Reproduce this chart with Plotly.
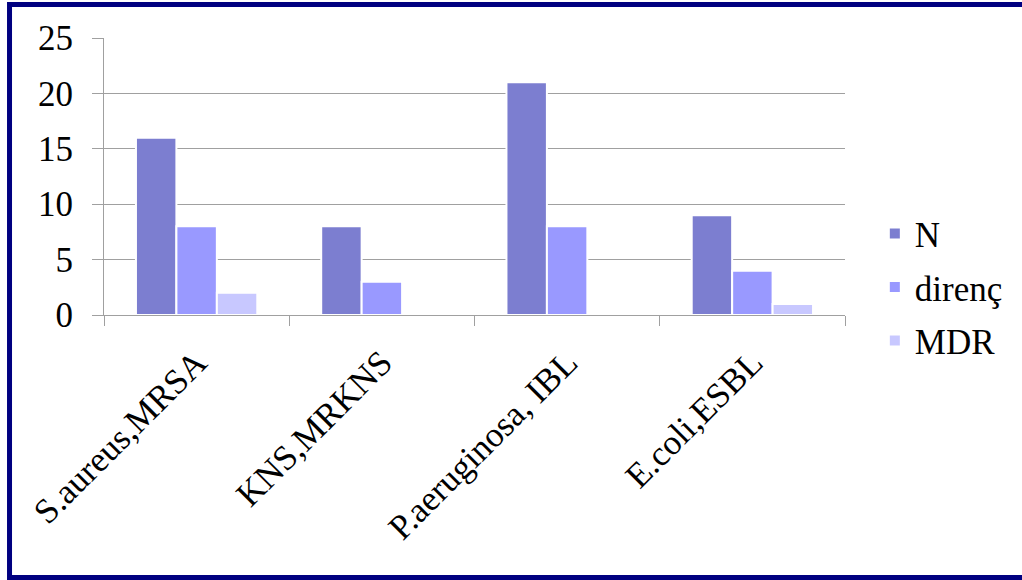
import plotly.graph_objects as go

# Isolates per organism with resistance counts
categories = ["S.aureus,MRSA", "KNS,MRKNS", "P.aeruginosa, IBL", "E.coli,ESBL"]
n_values = [16, 8, 21, 9]
direnc_values = [8, 3, 8, 4]
mdr_values = [2, 0, 0, 1]
series_names = ["N", "direnç", "MDR"]
series_colors = ["#7C7ED0", "#9999FF", "#C8C8FF"]
y_ticks = [0, 5, 10, 15, 20, 25]

FONT = "Liberation Serif"
FONT_SIZE = 35

fig = go.Figure()
for name, vals, color in zip(series_names, [n_values, direnc_values, mdr_values], series_colors):
    fig.add_trace(go.Bar(
        name=name,
        x=categories,
        y=vals,
        legendgroup=name,
        marker=dict(color=color, line=dict(color="white", width=2)),
    ))

# outer navy frame around the whole chart
fig.add_shape(
    type="rect", xref="paper", yref="paper",
    x0=-0.1275, x1=1.243, y0=-0.9477, y1=1.121,
    line=dict(color="#000080", width=5),
    fillcolor="rgba(0,0,0,0)", layer="above",
)

fig.update_layout(
    width=1022,
    height=580,
    margin=dict(l=104, r=177, t=38, b=265),
    paper_bgcolor="white",
    plot_bgcolor="white",
    barmode="group",
    bargap=0.345,
    bargroupgap=0,
    font=dict(family=FONT, size=FONT_SIZE, color="black"),
    showlegend=True,
    legend=dict(
        xref="container", yref="container",
        x=0.856, y=0.648, xanchor="left", yanchor="top",
        font=dict(family=FONT, size=FONT_SIZE, color="black"),
        tracegroupgap=5,
        itemwidth=30,
        bgcolor="rgba(0,0,0,0)",
    ),
    xaxis=dict(
        type="category",
        tickangle=-45,
        showline=True, linecolor="#A0A0A0", linewidth=1,
        ticks="outside", tickson="boundaries", ticklen=10, tickcolor="#A0A0A0",
        showgrid=False,
        tickfont=dict(family=FONT, size=FONT_SIZE, color="black"),
        ticklabelstandoff=12,
    ),
    yaxis=dict(
        range=[0, 25],
        tickvals=y_ticks,
        showline=True, linecolor="#A0A0A0", linewidth=1,
        ticks="outside", ticklen=11, tickcolor="#A0A0A0",
        showgrid=True, gridcolor="#A0A0A0", gridwidth=1,
        zeroline=False,
        tickfont=dict(family=FONT, size=FONT_SIZE, color="black"),
        ticklabelstandoff=12,
    ),
)

fig.write_html("out.html")
